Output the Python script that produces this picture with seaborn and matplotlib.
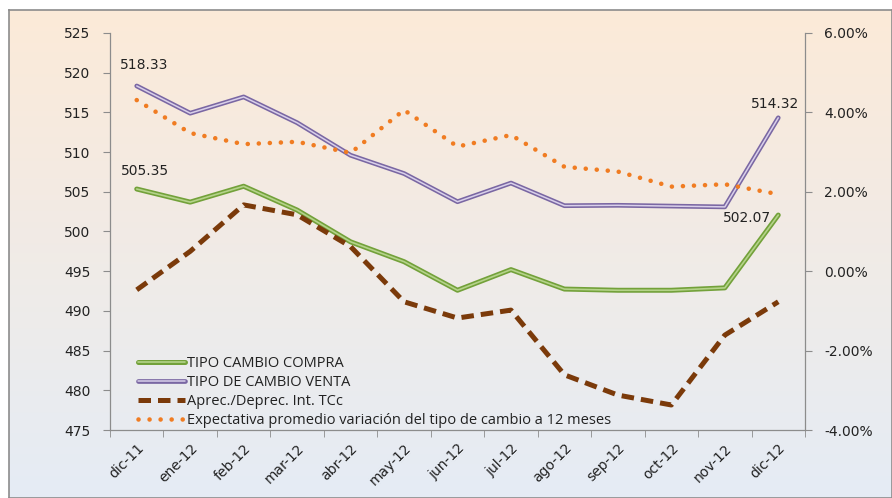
import numpy as np
import matplotlib
matplotlib.use("Agg")
import matplotlib.pyplot as plt
import matplotlib.patheffects as pe
from matplotlib.ticker import FuncFormatter
import seaborn as sns

# datos
meses = ['dic-11', 'ene-12', 'feb-12', 'mar-12', 'abr-12', 'may-12', 'jun-12',
         'jul-12', 'ago-12', 'sep-12', 'oct-12', 'nov-12', 'dic-12']
compra = [505.35, 503.7, 505.7, 502.7, 498.7, 496.2, 492.6, 495.2, 492.75, 492.6, 492.6, 492.9, 502.07]
venta = [518.33, 514.9, 516.95, 513.7, 509.6, 507.3, 503.75, 506.1, 503.25, 503.3, 503.2, 503.1, 514.32]
aprec = [-0.47, 0.5, 1.67, 1.42, 0.62, -0.77, -1.18, -0.98, -2.61, -3.12, -3.37, -1.61, -0.77]
expect = [4.31, 3.48, 3.2, 3.26, 2.98, 4.06, 3.14, 3.43, 2.63, 2.51, 2.13, 2.19, 1.94]

sns.set_style("ticks")
plt.rcParams['font.family'] = ['DejaVu Sans']

fig = plt.figure(figsize=(8.92, 4.98), dpi=100)

# fondo degradado del area del grafico
bg = fig.add_axes([9 / 892, 0, 1 - 9 / 892, (498 - 10) / 498], zorder=-5)
top = np.array([252, 234, 216]) / 255
bot = np.array([229, 236, 245]) / 255
t = np.linspace(0, 1, 256)[:, None]
grad = (top[None, :] * (1 - t) + bot[None, :] * t)[:, None, :]
bg.imshow(grad, aspect='auto', extent=[0, 1, 0, 1])
bg.set_xticks([])
bg.set_yticks([])
for s in bg.spines.values():
    s.set_color('#8c8c8c')
    s.set_linewidth(1.2)

ax = fig.add_axes([110 / 892, (498 - 430) / 498, (805 - 110) / 892, (430 - 33) / 498])
ax.set_facecolor('none')
ax2 = ax.twinx()

green = dict(color='#b5d38a', lw=1.2,
             path_effects=[pe.Stroke(linewidth=3.6, foreground='#73a13a'), pe.Normal()])
purple = dict(color='#d9d0ea', lw=1.1,
              path_effects=[pe.Stroke(linewidth=3.4, foreground='#7a67a3'), pe.Normal()])

sns.lineplot(x=meses, y=compra, ax=ax, label='TIPO CAMBIO COMPRA', legend=False, **green)
sns.lineplot(x=meses, y=venta, ax=ax, label='TIPO DE CAMBIO VENTA', legend=False, **purple)
sns.lineplot(x=meses, y=aprec, ax=ax2, color='#7b3a0a', lw=3.6, linestyle=(0, (2.5, 1.4)),
             label='Aprec./Deprec. Int. TCc', legend=False)
sns.lineplot(x=meses, y=expect, ax=ax2, color='#f07c22', lw=3.3, linestyle=(0, (0.01, 2.4)),
             dash_capstyle='round', label='Expectativa promedio variación del tipo de cambio a 12 meses',
             legend=False)

ax.set_xlim(-0.5, len(meses) - 0.5)
ax.set_ylim(475, 525)
ax.set_yticks(np.arange(475, 526, 5))
ax2.set_ylim(-4, 6)
ax2.set_yticks(np.arange(-4, 6.1, 2))
ax2.yaxis.set_major_formatter(FuncFormatter(lambda v, p: f'{v:.2f}%'))

ax.set_xticks(range(len(meses)))
ax.set_xticklabels(meses, rotation=45, ha='right', rotation_mode='anchor')
ax.set_xticks(np.arange(-0.5, len(meses), 1), minor=True)
ax.tick_params(axis='x', which='major', length=0, pad=8, labelsize=10, colors='#222222')
ax.tick_params(axis='x', which='minor', length=5, color='#8c8c8c')
ax.tick_params(axis='y', length=5, color='#8c8c8c', labelsize=10, labelcolor='#222222', pad=9)
ax2.tick_params(axis='y', length=5, color='#8c8c8c', labelsize=10, labelcolor='#222222', pad=9)

for a in (ax, ax2):
    a.spines['top'].set_visible(False)
    for s in ('left', 'right', 'bottom'):
        a.spines[s].set_color('#8c8c8c')
        a.spines[s].set_linewidth(0.9)
ax.spines['right'].set_visible(False)
ax2.spines['left'].set_visible(False)
ax2.spines['bottom'].set_visible(False)
ax.set_xlabel('')
ax.set_ylabel('')
ax2.set_ylabel('')

# etiquetas de datos
lab = dict(fontsize=10, color='#222222', textcoords='offset points')
ax.annotate(f'{venta[0]:.2f}', (0, venta[0]), xytext=(5, 10), ha='center', va='bottom', **lab)
ax.annotate(f'{compra[0]:.2f}', (0, compra[0]), xytext=(6, 8), ha='center', va='bottom', **lab)
ax.annotate(f'{venta[-1]:.2f}', (12, venta[-1]), xytext=(-2, 5), ha='center', va='bottom', **lab)
ax.annotate(f'{compra[-1]:.2f}', (12, compra[-1]), xytext=(-5, -2), ha='right', va='center', **lab)

h1, l1 = ax.get_legend_handles_labels()
h2, l2 = ax2.get_legend_handles_labels()
ax2.legend(h1 + h2, l1 + l2, loc='lower left', bbox_to_anchor=(0.03, -0.013), frameon=False,
           prop={'family': 'Open Sans', 'size': 10.5}, handlelength=3.2, handletextpad=0.15,
           labelspacing=0.27, borderpad=0, labelcolor='#222222')

fig.savefig('out.png', dpi=100)
